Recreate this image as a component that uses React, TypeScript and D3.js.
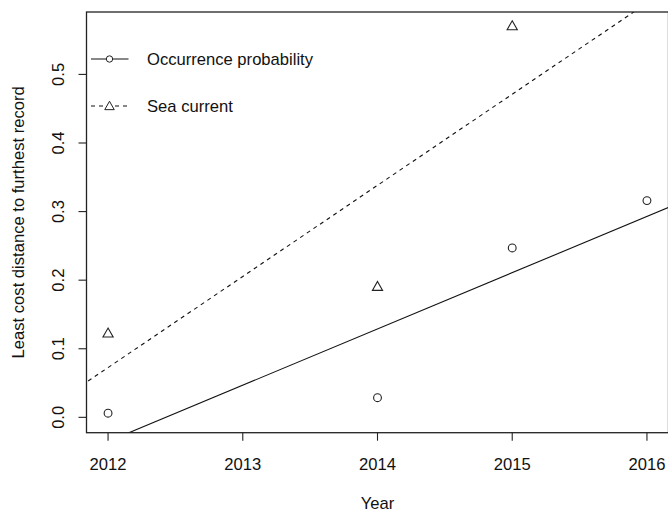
import React from "react";
import * as d3 from "d3";

const occYears = [2012, 2014, 2015, 2016];
const occValues = [0.006, 0.0286, 0.247, 0.316];
const seaYears = [2012, 2014, 2015];
const seaValues = [0.122, 0.19, 0.57];
const xTicks = [2012, 2013, 2014, 2015, 2016];
const yTicks = [0, 0.1, 0.2, 0.3, 0.4, 0.5];
const legendLabels = ["Occurrence probability", "Sea current"];

const W = 668;
const H = 511;
const left = 86.5;
const right = 668.5;
const top = 12;
const bottom = 432.7;
const FONT = "'Liberation Sans', Arial, Helvetica, sans-serif";
const FS = 16.6;

function fit(xs: number[], ys: number[]) {
  const mx = d3.mean(xs) as number;
  const my = d3.mean(ys) as number;
  let sxx = 0, sxy = 0;
  xs.forEach((x, i) => {
    sxx += (x - mx) * (x - mx);
    sxy += (x - mx) * (ys[i] - my);
  });
  const b = sxy / sxx;
  return (x: number) => my + b * (x - mx);
}

export default function App() {
  const x = d3.scaleLinear().domain([2011.84, 2016.16]).range([left, right]);
  const y = d3.scaleLinear().domain([-0.0224, 0.591]).range([bottom, top]);
  const fOcc = fit(occYears, occValues);
  const fSea = fit(seaYears, seaValues);
  const x0 = x.invert(left - 5);
  const x1 = x.invert(right + 5);
  const line = d3.line<[number, number]>().x((d) => x(d[0])).y((d) => y(d[1]));
  const tri = (cx: number, cy: number, s: number) =>
    `M${cx},${cy - s * 0.75}L${cx + s * 0.68},${cy + s * 0.45}L${cx - s * 0.68},${cy + s * 0.45}Z`;
  const tickLen = 8;
  const midY = (top + bottom) / 2;

  return (
    <svg
      width={W}
      height={H}
      style={{ position: "absolute", left: 0, top: 0, background: "#fff" }}
      fontFamily={FONT}
    >
      <defs>
        <clipPath id="plot">
          <rect x={left} y={top} width={right - left} height={bottom - top} />
        </clipPath>
      </defs>
      <g clipPath="url(#plot)" fill="none" stroke="#111" strokeWidth={1.1}>
        <path d={line([[x0, fOcc(x0)], [x1, fOcc(x1)]]) as string} />
        <path d={line([[x0, fSea(x0)], [x1, fSea(x1)]]) as string} strokeDasharray="4,4" />
      </g>
      <g fill="none" stroke="#222" strokeWidth={1.1}>
        {occYears.map((yr, i) => (
          <circle key={"o" + i} cx={x(yr)} cy={y(occValues[i])} r={3.9} />
        ))}
        {seaYears.map((yr, i) => (
          <path key={"s" + i} d={tri(x(yr), y(seaValues[i]), 7.5)} />
        ))}
      </g>
      <rect x={left} y={top} width={right - left} height={bottom - top} fill="none" stroke="#222" strokeWidth={1.3} />
      <g stroke="#222" strokeWidth={1.1}>
        {xTicks.map((t) => (
          <line key={"xt" + t} x1={x(t)} x2={x(t)} y1={bottom} y2={bottom + tickLen} />
        ))}
        {yTicks.map((t) => (
          <line key={"yt" + t} x1={left} x2={left - tickLen} y1={y(t)} y2={y(t)} />
        ))}
      </g>
      <g fill="#111" fontSize={FS}>
        {xTicks.map((t) => (
          <text key={"xl" + t} x={x(t)} y={469.5} textAnchor="middle">
            {t}
          </text>
        ))}
        {yTicks.map((t) => (
          <text
            key={"yl" + t}
            transform={`translate(63.5,${y(t)}) rotate(-90)`}
            textAnchor="middle"
          >
            {d3.format(".1f")(t)}
          </text>
        ))}
        <text x={x(2014)} y={508.5} textAnchor="middle">
          Year
        </text>
        <text transform={`translate(23.5,${midY}) rotate(-90)`} textAnchor="middle">
          Least cost distance to furthest record
        </text>
      </g>
      <g>
        <line x1={91} x2={128.5} y1={59} y2={59} stroke="#111" strokeWidth={1.1} />
        <circle cx={109.5} cy={59} r={3.2} fill="#fff" stroke="#222" strokeWidth={1} />
        <line x1={91} x2={128.5} y1={106} y2={106} stroke="#111" strokeWidth={1.1} strokeDasharray="4,4" />
        <path d={tri(109.5, 106.5, 7)} fill="#fff" stroke="#222" strokeWidth={1} />
        <text x={147} y={65} fontSize={FS} fill="#111">
          {legendLabels[0]}
        </text>
        <text x={147} y={112} fontSize={FS} fill="#111">
          {legendLabels[1]}
        </text>
      </g>
    </svg>
  );
}
